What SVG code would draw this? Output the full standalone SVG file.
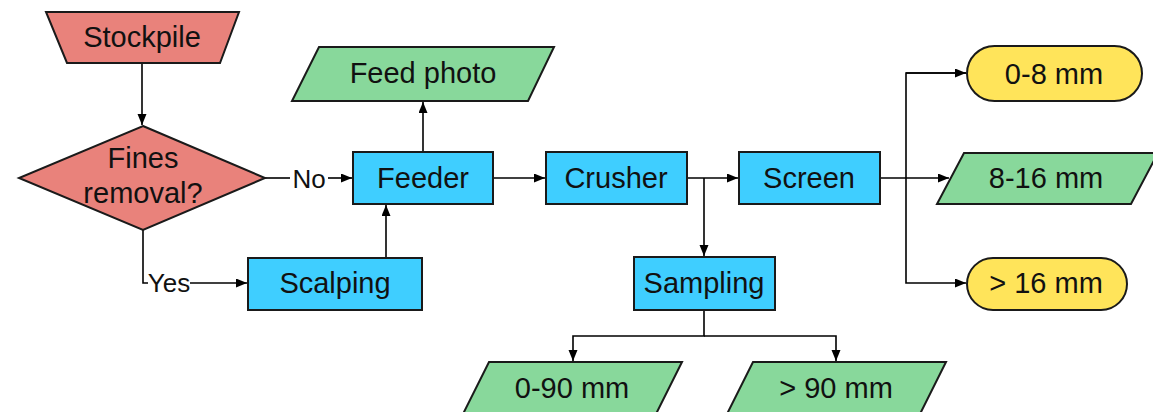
<svg xmlns="http://www.w3.org/2000/svg" width="1153" height="412" viewBox="0 0 1153 412">
<defs>
<marker id="arr" markerUnits="userSpaceOnUse" markerWidth="12" markerHeight="10" refX="11" refY="4.5" orient="auto">
<path d="M0,0 L11,4.5 L0,9 z" fill="#000"/>
</marker>
<style>
.s{stroke:#1a1a1a;stroke-width:2}
.red{fill:#E9827B}
.grn{fill:#88D89B}
.blu{fill:#3FCEFF}
.yel{fill:#FFE45A}
.t{font-family:"Liberation Sans",Arial,sans-serif;font-size:29px;fill:#111;text-anchor:middle}
.lb{font-family:"Liberation Sans",Arial,sans-serif;font-size:26px;fill:#111}
.c{fill:none;stroke:#000;stroke-width:1.6}
</style>
</defs>
<rect width="1153" height="412" fill="#fff"/>
<g id="connectors">
<path class="c" d="M142,63 V125" marker-end="url(#arr)"/>
<path class="c" d="M265,178 H290"/>
<path class="c" d="M328,178 H352" marker-end="url(#arr)"/>
<path class="c" d="M143,230 V283 H148"/>
<path class="c" d="M190,283 H247" marker-end="url(#arr)"/>
<path class="c" d="M386,258 V205" marker-end="url(#arr)"/>
<path class="c" d="M423,152 V102" marker-end="url(#arr)"/>
<path class="c" d="M493,178 H545" marker-end="url(#arr)"/>
<path class="c" d="M687,178 H738" marker-end="url(#arr)"/>
<path class="c" d="M704,178 V256" marker-end="url(#arr)"/>
<path class="c" d="M880,178 H949" marker-end="url(#arr)"/>
<path class="c" d="M966,73 H906 V283 H966" marker-end="url(#arr)"/>
<path class="c" d="M906,73 H966" marker-end="url(#arr)"/>
<path class="c" d="M704,310 V336 H573 V361" marker-end="url(#arr)"/>
<path class="c" d="M704,336 H836 V361" marker-end="url(#arr)"/>
<text class="lb" x="309" y="188" text-anchor="middle">No</text>
<text class="lb" x="169" y="292" text-anchor="middle">Yes</text>
</g>
<g id="stockpile">
<polygon class="s red" points="46,12 239,12 220,63 67,63"/>
<text class="t" x="142" y="47">Stockpile</text>
</g>
<g id="fines-removal">
<polygon class="s red" points="143,126 265,178 143,230 19,178"/>
<text class="t" x="143" y="168">Fines</text>
<text class="t" x="143" y="203">removal?</text>
</g>
<g id="feed-photo">
<polygon class="s grn" points="319,47 554,47 528,101 292,101"/>
<text class="t" x="423" y="83">Feed photo</text>
</g>
<g id="feeder">
<rect class="s blu" x="353" y="152" width="140" height="52"/>
<text class="t" x="423" y="188">Feeder</text>
</g>
<g id="scalping">
<rect class="s blu" x="248" y="258" width="174" height="52"/>
<text class="t" x="335" y="293">Scalping</text>
</g>
<g id="crusher">
<rect class="s blu" x="546" y="152" width="141" height="52"/>
<text class="t" x="616" y="188">Crusher</text>
</g>
<g id="screen">
<rect class="s blu" x="739" y="152" width="141" height="52"/>
<text class="t" x="809" y="188">Screen</text>
</g>
<g id="sampling">
<rect class="s blu" x="634" y="257" width="141" height="53"/>
<text class="t" x="704" y="293">Sampling</text>
</g>
<g id="out-0-8">
<rect class="s yel" x="967" y="46" width="175" height="55" rx="27.5"/>
<text class="t" x="1054" y="84">0-8 mm</text>
</g>
<g id="out-8-16">
<polygon class="s grn" points="964,153 1158,153 1131,204 937,204"/>
<text class="t" x="1046" y="188">8-16 mm</text>
</g>
<g id="out-16">
<rect class="s yel" x="967" y="258" width="160" height="52" rx="26"/>
<text class="t" x="1046" y="293">&gt; 16 mm</text>
</g>
<g id="out-0-90">
<polygon class="s grn" points="489,362 682,362 655,416 462,416"/>
<text class="t" x="572" y="398">0-90 mm</text>
</g>
<g id="out-90">
<polygon class="s grn" points="753,362 946,362 919,416 726,416"/>
<text class="t" x="836" y="398">&gt; 90 mm</text>
</g>
</svg>
